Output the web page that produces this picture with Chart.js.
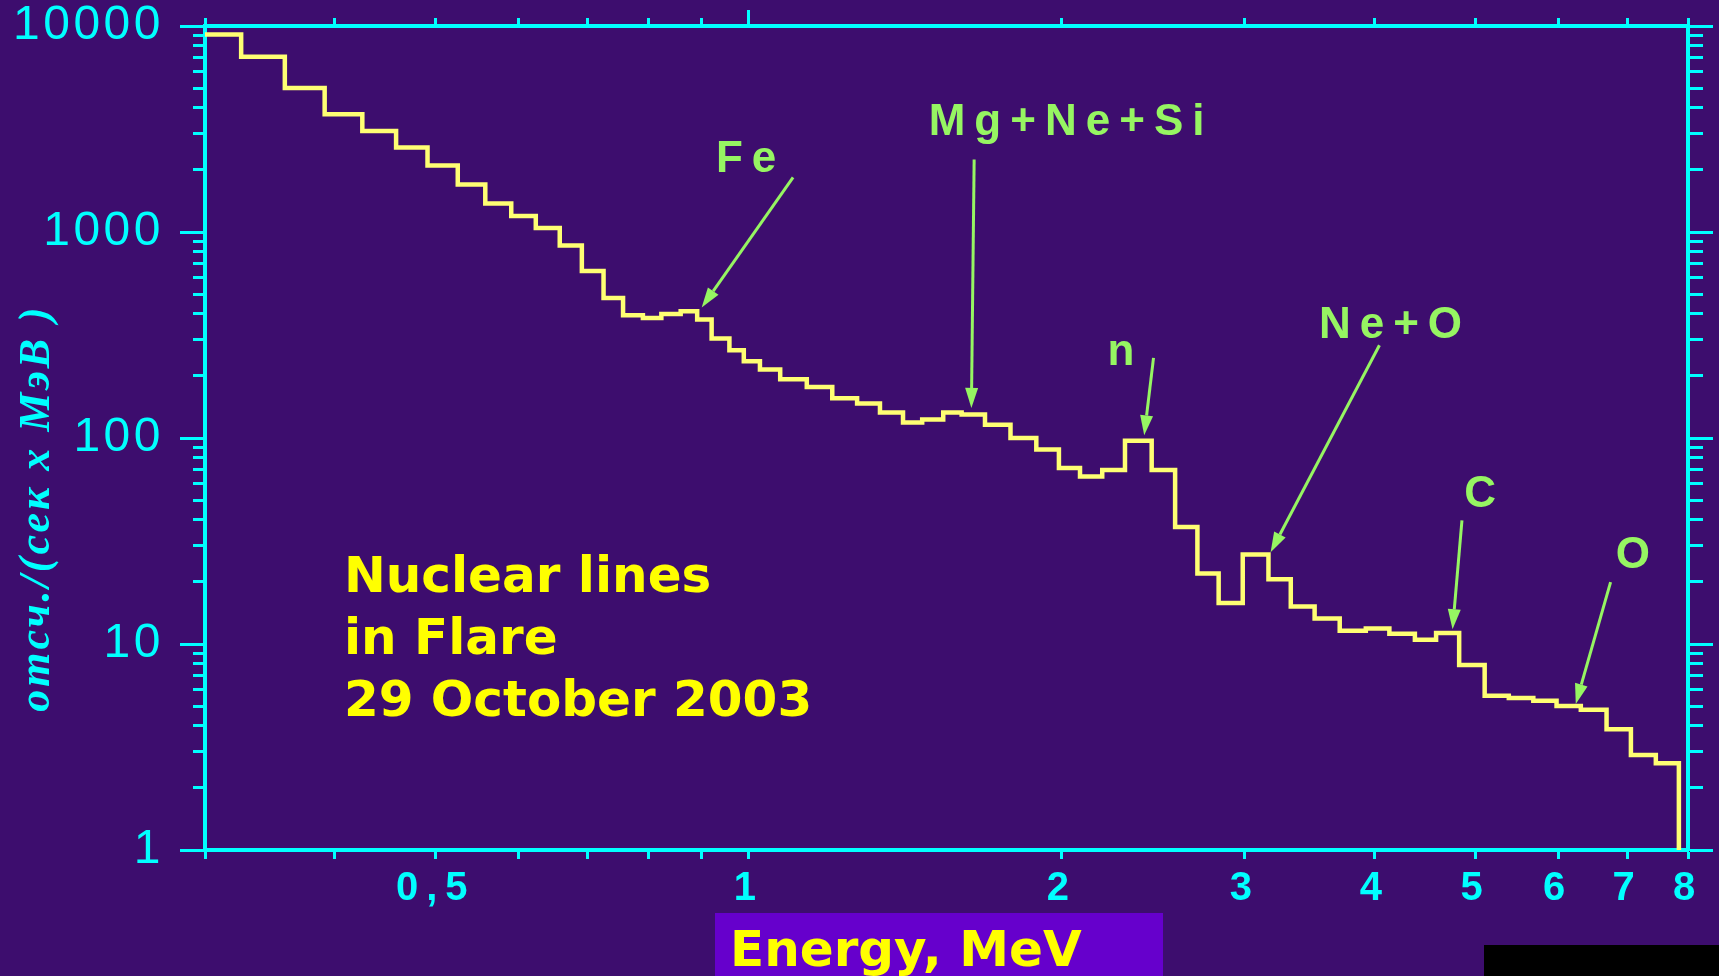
<!DOCTYPE html>
<html>
<head>
<meta charset="utf-8">
<script src="https://cdn.jsdelivr.net/npm/chart.js@4.4.1/dist/chart.umd.min.js"></script>
<style>
html,body{margin:0;padding:0;background:#3d0d6e;overflow:hidden;}
canvas{display:block;}
</style>
</head>
<body>
<canvas id="c" width="1719" height="976"></canvas>
<script>
// ---- data (energy bin edges in MeV, count rates per bin) ----
const binEdgesMeV = [0.3, 0.325, 0.358, 0.391, 0.425, 0.458, 0.491, 0.525, 0.558, 0.591, 0.624, 0.658, 0.691, 0.725, 0.757, 0.791, 0.824, 0.860, 0.892, 0.921, 0.958, 0.989, 1.025, 1.072, 1.137, 1.203, 1.271, 1.337, 1.407, 1.468, 1.538, 1.602, 1.687, 1.785, 1.890, 1.987, 2.082, 2.187, 2.300, 2.44, 2.57, 2.70, 2.83, 2.985, 3.16, 3.32, 3.50, 3.70, 3.92, 4.13, 4.37, 4.58, 4.82, 5.10, 5.38, 5.68, 5.98, 6.31, 6.68, 7.05, 7.45, 7.84];
const countRates = [9100, 7100, 5000, 3730, 3090, 2570, 2100, 1700, 1375, 1195, 1047, 860, 646, 478, 394, 382, 400, 412, 376, 304, 267, 236, 215, 193, 177, 156, 147, 133, 119, 123, 133, 130, 116, 100, 88, 71.5, 65, 70, 97, 70, 37, 22, 15.8, 27.2, 20.6, 15.2, 13.3, 11.6, 11.9, 11.2, 10.5, 11.3, 7.9, 5.6, 5.47, 5.31, 5.0, 4.8, 3.86, 2.89, 2.64];
const spectrumFloor = 1;

// ---- axis ticks ----
const xTickValues = [0.3, 0.4, 0.5, 0.6, 0.7, 0.8, 0.9, 1, 2, 3, 4, 5, 6, 7, 8];
const xTickLabels = ['', '', '0,5', '', '', '', '', '1', '2', '3', '4', '5', '6', '7', '8'];
const yTickValues = [1,2,3,4,5,6,7,8,9,10,20,30,40,50,60,70,80,90,100,200,300,400,500,600,700,800,900,1000,2000,3000,4000,5000,6000,7000,8000,9000,10000];
const yMajorValues = [1, 10, 100, 1000, 10000];
const yTickLabels = ['1', '10', '100', '1000', '10000'];

// ---- annotations (data coordinates) ----
const lineNames = ['Fe', 'Mg+Ne+Si', 'n', 'Ne+O', 'C', 'O'];
const lineLabelE = [0.994, 2.021, 2.28, 4.14, 5.05, 7.08];
const lineLabelV = [1959, 2953, 225, 305, 46.5, 23.3];
const arrowTailE = [1.103, 1.647, 2.45, 4.04, 4.85, 6.74];
const arrowTailV = [1841, 2251, 245, 282, 39.8, 19.95];
const arrowTipE = [0.901, 1.637, 2.40, 3.175, 4.75, 6.24];
const arrowTipV = [430, 140, 103, 27.9, 11.8, 5.12];
const noteLines = ['Nuclear lines', 'in Flare', '29 October 2003'];
const noteAnchorE = 0.408;
const noteAnchorV = 17.97;
const xTitle = 'Energy, MeV';
const yTitle = 'отсч./(сек x МэВ )';

const CYAN = '#00ffff';
const LINE_YELLOW = '#ffff73';
const TEXT_YELLOW = '#ffff00';
const GREEN = '#96f562';

// step histogram points built from the arrays
const points = binEdgesMeV.slice(0, -1).map((e, i) => ({x: e, y: countRates[i]}));
const lastEdge = binEdgesMeV[binEdgesMeV.length - 1];
points.push({x: lastEdge, y: countRates[countRates.length - 1]});
points.push({x: lastEdge, y: spectrumFloor});

const isYMajor = v => yMajorValues.indexOf(v) >= 0;
const setTicks = vals => s => { s.ticks = vals.map(v => ({value: v})); };
const fixV = w => s => { s.width = w; s.paddingTop = 0; s.paddingBottom = 0; };
const fixH = h => s => { s.height = h; s.paddingLeft = 0; s.paddingRight = 0; };

const spacingPlugin = {
  id: 'spacing',
  beforeDraw(chart) { chart.ctx.letterSpacing = '3.5px'; },
  afterDatasetsDraw(chart) { chart.ctx.letterSpacing = '8px'; }
};

const annotationPlugin = {
  id: 'annot',
  afterDraw(chart) {
    const ctx = chart.ctx;
    const xs = chart.scales.x, ys = chart.scales.y;
    ctx.save();
    ctx.strokeStyle = GREEN; ctx.fillStyle = GREEN; ctx.lineWidth = 3;
    for (let i = 0; i < lineNames.length; i++) {
      const tx = xs.getPixelForValue(arrowTailE[i]), ty = ys.getPixelForValue(arrowTailV[i]);
      const px = xs.getPixelForValue(arrowTipE[i]), py = ys.getPixelForValue(arrowTipV[i]);
      const a = Math.atan2(py - ty, px - tx);
      const hl = 20, hw = 6.5;
      const bx = px - hl * Math.cos(a), by = py - hl * Math.sin(a);
      ctx.beginPath(); ctx.moveTo(tx, ty); ctx.lineTo(bx, by); ctx.stroke();
      ctx.beginPath(); ctx.moveTo(px, py);
      ctx.lineTo(bx + hw * Math.sin(a), by - hw * Math.cos(a));
      ctx.lineTo(bx - hw * Math.sin(a), by + hw * Math.cos(a));
      ctx.closePath(); ctx.fill();
      ctx.font = 'bold 44px "Liberation Sans", Arial, sans-serif';
      ctx.letterSpacing = '9px';
      ctx.textAlign = 'left'; ctx.textBaseline = 'alphabetic';
      const w = ctx.measureText(lineNames[i]).width - 9;
      ctx.fillText(lineNames[i], xs.getPixelForValue(lineLabelE[i]) - w / 2, ys.getPixelForValue(lineLabelV[i]));
    }
    ctx.letterSpacing = '0px';
    ctx.fillStyle = TEXT_YELLOW;
    ctx.font = 'bold 50px "DejaVu Sans", sans-serif';
    const nx = xs.getPixelForValue(noteAnchorE), ny = ys.getPixelForValue(noteAnchorV);
    noteLines.forEach((t, k) => ctx.fillText(t, nx, ny + k * 62));
    ctx.fillStyle = '#6600cc';
    ctx.fillRect(715, 913, 448, 63);
    ctx.fillStyle = TEXT_YELLOW;
    ctx.fillText(xTitle, 730, 966);
    ctx.fillStyle = '#000000';
    ctx.fillRect(1484, 945, 235, 31);
    ctx.translate(38, 508);
    ctx.rotate(-Math.PI / 2);
    ctx.font = 'italic bold 44px "Liberation Serif", serif';
    ctx.letterSpacing = '3px';
    ctx.fillStyle = CYAN;
    ctx.textAlign = 'center'; ctx.textBaseline = 'middle';
    ctx.fillText(yTitle, 0, 0);
    ctx.restore();
  }
};

const tickFontX = {family: '"Liberation Sans", Arial, sans-serif', weight: 'bold', size: 40};
const tickFontY = {family: '"Liberation Sans", Arial, sans-serif', size: 48};

new Chart(document.getElementById('c'), {
  type: 'line',
  data: {
    datasets: [{
      data: points,
      stepped: true,
      borderColor: LINE_YELLOW,
      borderWidth: 4.5,
      pointRadius: 0,
      fill: false,
      tension: 0
    }]
  },
  options: {
    responsive: false,
    animation: false,
    devicePixelRatio: 1,
    layout: {padding: 0},
    plugins: {legend: {display: false}, title: {display: false}, tooltip: {enabled: false}},
    scales: {
      x: {
        type: 'logarithmic', position: 'bottom', min: 0.3, max: 8,
        afterBuildTicks: setTicks(xTickValues),
        afterFit: fixH(126),
        ticks: {z: 1, autoSkip: false, maxRotation: 0, minRotation: 0, padding: 6, color: CYAN, font: tickFontX,
          callback: v => xTickLabels[xTickValues.indexOf(v)] || ''},
        grid: {drawOnChartArea: false, drawTicks: true, tickLength: 9, tickWidth: 3, tickColor: CYAN},
        border: {display: true, color: CYAN, width: 4}
      },
      x2: {
        type: 'logarithmic', position: 'top', min: 0.3, max: 8,
        afterBuildTicks: setTicks(xTickValues),
        afterFit: fixH(26),
        ticks: {display: false, autoSkip: false},
        grid: {drawOnChartArea: false, drawTicks: true, tickLength: 16, tickWidth: 3, tickColor: CYAN,
          tickBorderDash: c => (c.tick && c.tick.value === 1) ? [] : [0, 8, 8, 100]},
        border: {display: true, color: CYAN, width: 4}
      },
      y: {
        type: 'logarithmic', position: 'left', min: 1, max: 10000,
        afterBuildTicks: setTicks(yTickValues),
        afterFit: fixV(205),
        ticks: {autoSkip: false, padding: 16, color: CYAN, font: tickFontY,
          callback: v => { const k = yMajorValues.indexOf(v); return k >= 0 ? yTickLabels[k] : ''; }},
        grid: {drawOnChartArea: false, drawTicks: true, tickLength: 25, tickWidth: 3, tickColor: CYAN,
          tickBorderDash: c => (c.tick && isYMajor(c.tick.value)) ? [] : [0, 13, 12, 100]},
        border: {display: true, color: CYAN, width: 4}
      },
      y2: {
        type: 'logarithmic', position: 'right', min: 1, max: 10000,
        afterBuildTicks: setTicks(yTickValues),
        afterFit: fixV(31),
        ticks: {display: false, autoSkip: false},
        grid: {drawOnChartArea: false, drawTicks: true, tickLength: 25, tickWidth: 3, tickColor: CYAN,
          tickBorderDash: c => (c.tick && isYMajor(c.tick.value)) ? [] : [13, 100]},
        border: {display: true, color: CYAN, width: 4}
      }
    }
  },
  plugins: [spacingPlugin, annotationPlugin]
});
</script>
</body>
</html>
